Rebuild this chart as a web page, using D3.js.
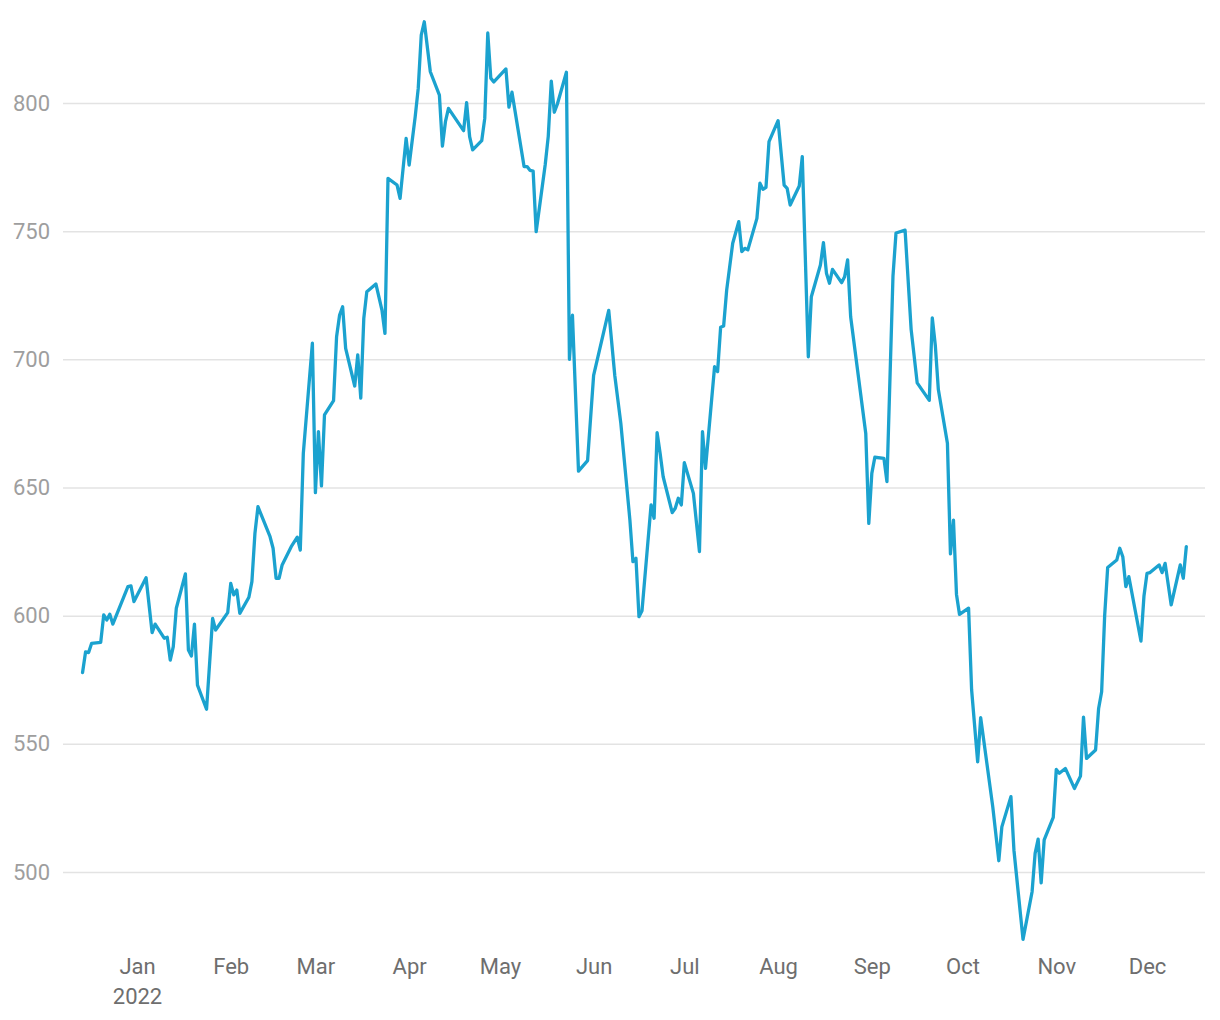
<!DOCTYPE html>
<html>
<head>
<meta charset="utf-8">
<script src="https://cdn.jsdelivr.net/npm/d3@7"></script>
<style>
  html, body { margin: 0; padding: 0; background: #ffffff; }
  svg { display: block; font-family: Roboto, "Noto Sans", sans-serif; }
</style>
</head>
<body>
<svg id="chart" width="1220" height="1020"></svg>
<script>
// ---- data ----
const dates = [
"2021-12-14","2021-12-15","2021-12-16","2021-12-17","2021-12-20","2021-12-21","2021-12-22","2021-12-23","2021-12-24","2021-12-29",
"2021-12-30","2021-12-31","2022-01-04","2022-01-06","2022-01-07","2022-01-10","2022-01-11","2022-01-12","2022-01-13","2022-01-14",
"2022-01-17","2022-01-18","2022-01-19","2022-01-20","2022-01-21","2022-01-24","2022-01-26","2022-01-27","2022-01-31","2022-02-01",
"2022-02-02","2022-02-03","2022-02-04","2022-02-07","2022-02-08","2022-02-09","2022-02-10","2022-02-14","2022-02-15","2022-02-16",
"2022-02-17","2022-02-18","2022-02-21","2022-02-23","2022-02-24","2022-02-25","2022-02-28","2022-03-01","2022-03-02","2022-03-03",
"2022-03-04","2022-03-07","2022-03-08","2022-03-09","2022-03-10","2022-03-11","2022-03-14","2022-03-15","2022-03-16","2022-03-17",
"2022-03-18","2022-03-21","2022-03-23","2022-03-24","2022-03-25","2022-03-28","2022-03-29","2022-03-31","2022-04-01","2022-04-03",
"2022-04-04","2022-04-05","2022-04-06","2022-04-08","2022-04-11","2022-04-12","2022-04-13","2022-04-14","2022-04-19","2022-04-20",
"2022-04-21","2022-04-22","2022-04-25","2022-04-26","2022-04-27","2022-04-28","2022-04-29","2022-05-03","2022-05-04","2022-05-05",
"2022-05-09","2022-05-10","2022-05-11","2022-05-12","2022-05-13","2022-05-16","2022-05-17","2022-05-18","2022-05-19","2022-05-20",
"2022-05-23","2022-05-24","2022-05-25","2022-05-27","2022-05-30","2022-06-01","2022-06-06","2022-06-08","2022-06-10","2022-06-13",
"2022-06-14","2022-06-15","2022-06-16","2022-06-17","2022-06-20","2022-06-21","2022-06-22","2022-06-23","2022-06-24","2022-06-27",
"2022-06-28","2022-06-29","2022-06-30","2022-07-01","2022-07-04","2022-07-06","2022-07-07","2022-07-08","2022-07-11","2022-07-12",
"2022-07-13","2022-07-14","2022-07-15","2022-07-17","2022-07-19","2022-07-20","2022-07-21","2022-07-22","2022-07-25","2022-07-26",
"2022-07-27","2022-07-28","2022-07-29","2022-08-01","2022-08-03","2022-08-04","2022-08-05","2022-08-08","2022-08-09","2022-08-11",
"2022-08-12","2022-08-15","2022-08-16","2022-08-17","2022-08-18","2022-08-19","2022-08-22","2022-08-23","2022-08-24","2022-08-25",
"2022-08-30","2022-08-31","2022-09-01","2022-09-02","2022-09-05","2022-09-06","2022-09-08","2022-09-09","2022-09-12","2022-09-14",
"2022-09-16","2022-09-20","2022-09-21","2022-09-22","2022-09-23","2022-09-26","2022-09-27","2022-09-28","2022-09-29","2022-09-30",
"2022-10-03","2022-10-04","2022-10-06","2022-10-07","2022-10-11","2022-10-13","2022-10-14","2022-10-17","2022-10-18","2022-10-21",
"2022-10-24","2022-10-25","2022-10-26","2022-10-27","2022-10-28","2022-10-31","2022-11-01","2022-11-02","2022-11-04","2022-11-07",
"2022-11-09","2022-11-10","2022-11-11","2022-11-14","2022-11-15","2022-11-16","2022-11-17","2022-11-18","2022-11-21","2022-11-22",
"2022-11-23","2022-11-24","2022-11-25","2022-11-29","2022-11-30","2022-12-01","2022-12-02","2022-12-05","2022-12-06","2022-12-07",
"2022-12-09","2022-12-12","2022-12-13","2022-12-14"
];
const values = [
577.8,585.9,585.6,589.2,589.6,600.3,598.3,600.6,596.7,611.3,
611.6,605.5,614.8,593.4,596.7,591.2,591.6,582.7,587.9,602.9,
616.3,586.6,584.3,596.7,572.9,563.5,598.9,594.4,601.2,612.6,
608.1,610.0,600.9,607.2,613.3,632.1,642.5,630.8,626.3,614.6,
614.6,619.8,626.9,630.6,625.6,663.3,706.3,648.0,671.8,650.6,
678.3,683.9,708.8,717.3,720.5,704.3,689.6,701.7,684.9,716.0,
726.4,729.4,719.2,710.1,770.6,768.0,762.8,786.2,775.8,794.7,
805.7,826.5,831.7,812.2,803.1,783.2,792.7,797.9,789.2,800.1,
786.9,781.7,785.3,794.0,827.3,809.7,808.2,813.3,798.4,804.2,
775.2,775.2,773.7,773.4,749.8,776.0,787.0,808.5,796.4,799.5,
812.0,700.0,717.2,656.4,660.5,693.7,719.1,693.7,675.0,637.3,
621.1,622.4,599.6,601.9,643.2,638.0,671.4,663.3,654.2,640.2,
641.9,645.8,643.2,659.7,647.7,625.0,671.8,657.5,697.1,695.2,
712.5,713.0,727.0,745.3,753.7,742.0,743.3,742.7,755.0,768.7,
766.3,767.1,784.9,793.1,768.0,766.7,760.2,767.6,779.1,701.0,
724.4,736.8,745.5,733.6,729.7,735.1,729.9,732.2,738.8,716.6,
671.1,636.0,655.5,661.8,661.4,652.3,732.6,749.3,750.4,711.7,
690.8,684.0,716.2,705.4,688.2,667.3,624.1,637.3,608.3,600.5,
602.9,571.1,543.0,560.2,525.4,504.4,517.6,529.4,508.5,473.7,
492.3,507.3,512.8,495.8,512.5,521.3,540.0,538.5,540.4,532.6,
537.4,560.4,544.3,547.6,563.8,570.3,600.0,618.8,621.7,626.3,
623.0,611.3,615.2,590.1,607.7,616.5,616.8,619.8,616.8,620.4,
604.2,619.8,614.6,626.9
];
const yTicks = [500, 550, 600, 650, 700, 750, 800];
const monthTicks = ["2022-01-01","2022-02-01","2022-03-01","2022-04-01","2022-05-01","2022-06-01",
                    "2022-07-01","2022-08-01","2022-09-01","2022-10-01","2022-11-01","2022-12-01"];
const yearLabel = "2022";

// ---- drawing ----
const parse = d3.utcParse("%Y-%m-%d");
const data = dates.map((d, i) => ({ date: parse(d), value: values[i] }));

const svg = d3.select("#chart");
const gridLeft = 63, gridRight = 1205;

const x = d3.scaleUtc()
  .domain([parse("2022-01-01"), parse("2022-12-01")])
  .range([137, 1147]);
const y = d3.scaleLinear()
  .domain([500, 800])
  .range([872, 103]);

// y grid + labels
const yAxis = d3.axisLeft(y)
  .tickValues(yTicks)
  .tickSize(-(gridRight - gridLeft))
  .tickPadding(13)
  .tickFormat(d3.format("d"));
const gy = svg.append("g")
  .attr("transform", `translate(${gridLeft},0)`)
  .call(yAxis);
gy.select(".domain").remove();
gy.selectAll(".tick line").attr("stroke", "#e3e3e3").attr("stroke-width", 1.5);
gy.selectAll(".tick text")
  .attr("fill", "#9e9e9e")
  .style("font-size", "22px")
  .style("font-family", "Roboto, sans-serif");

// x axis labels
const xAxis = d3.axisBottom(x)
  .tickValues(monthTicks.map(parse))
  .tickSize(0)
  .tickPadding(0)
  .tickFormat(d3.utcFormat("%b"));
const gx = svg.append("g")
  .attr("transform", `translate(0,958)`)
  .call(xAxis);
gx.select(".domain").remove();
gx.selectAll(".tick text")
  .attr("fill", "#6e6e6e")
  .attr("dy", "0.71em")
  .style("font-size", "22px")
  .style("font-family", "Roboto, sans-serif");
gx.selectAll(".tick")
  .filter((d, i) => i === 0)
  .append("text")
  .attr("y", 30)
  .attr("dy", "0.71em")
  .attr("text-anchor", "middle")
  .attr("fill", "#6e6e6e")
  .style("font-size", "22px")
  .style("font-family", "Roboto, sans-serif")
  .text(yearLabel);

// line
const line = d3.line()
  .x(d => x(d.date))
  .y(d => y(d.value));
svg.append("path")
  .datum(data)
  .attr("fill", "none")
  .attr("stroke", "#1ba2cf")
  .attr("stroke-width", 3.3)
  .attr("stroke-linejoin", "round")
  .attr("stroke-linecap", "round")
  .attr("d", line);
</script>
</body>
</html>
